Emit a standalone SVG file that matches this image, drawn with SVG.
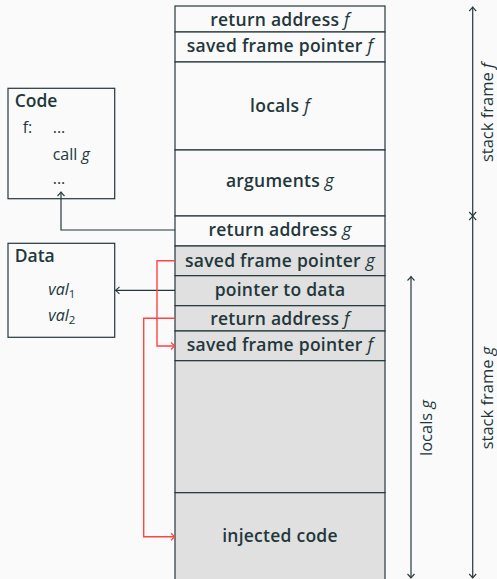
<svg xmlns="http://www.w3.org/2000/svg" width="497" height="579" viewBox="0 0 497 579">
<style>
text{font-family:"Open Sans","Noto Sans",sans-serif;fill:#23373b}
.lbl{font-size:17.5px;font-weight:600;text-anchor:middle;letter-spacing:0.25px}
.m{font-style:italic;font-weight:400}
.cell{stroke:#23373b;stroke-width:1.2}
.w{fill:#fafafa}
.g{fill:#e0e0e0}
.box{fill:none;stroke:#23373b;stroke-width:1.2}
.title{font-size:17.5px;font-weight:600}
.code{font-size:16px;font-weight:400}
.rot{font-size:16.5px;font-weight:400;text-anchor:middle}
.con{fill:none;stroke:#23373b;stroke-width:1.2}
.red{fill:none;stroke:#f44;stroke-width:1.4}
</style>
<defs>
<marker id="ah" markerUnits="userSpaceOnUse" markerWidth="12" markerHeight="12" viewBox="-6 -6 12 12" refX="0" refY="0" orient="auto-start-reverse">
<path d="M-4,-3.5 Q-1.2,-0.8 0,0 Q-1.2,0.8 -4,3.5" fill="none" stroke="#23373b" stroke-width="1.1"/>
</marker>
<marker id="ahr" markerUnits="userSpaceOnUse" markerWidth="12" markerHeight="12" viewBox="-6 -6 12 12" refX="0" refY="0" orient="auto">
<path d="M-4,-3.5 Q-1.2,-0.8 0,0 Q-1.2,0.8 -4,3.5" fill="none" stroke="#f44" stroke-width="1.2"/>
</marker>
</defs>
<rect width="497" height="579" fill="#fafafa"/>

<g id="stack">
<g id="ret-f"><rect class="cell w" x="175" y="6" width="210" height="26"/><text class="lbl" x="280" y="26">return address <tspan class="m">f</tspan></text></g>
<g id="sfp-f"><rect class="cell w" x="175" y="32" width="210" height="30"/><text class="lbl" x="280" y="52">saved frame pointer <tspan class="m">f</tspan></text></g>
<g id="locals-f"><rect class="cell w" x="175" y="62" width="210" height="88"/><text class="lbl" x="280" y="112">locals <tspan class="m">f</tspan></text></g>
<g id="args-g"><rect class="cell w" x="175" y="150" width="210" height="66"/><text class="lbl" x="280" y="187">arguments <tspan class="m">g</tspan></text></g>
<g id="ret-g"><rect class="cell w" x="175" y="216" width="210" height="30"/><text class="lbl" x="280" y="236">return address <tspan class="m">g</tspan></text></g>
<g id="sfp-g"><rect class="cell g" x="175" y="246" width="210" height="29.7"/><text class="lbl" x="280" y="266.5">saved frame pointer <tspan class="m">g</tspan></text></g>
<g id="ptr-data"><rect class="cell g" x="175" y="275.7" width="210" height="30"/><text class="lbl" x="280" y="295.5">pointer to data</text></g>
<g id="ret-f2"><rect class="cell g" x="175" y="305.7" width="210" height="25.3"/><text class="lbl" x="280" y="325">return address <tspan class="m">f</tspan></text></g>
<g id="sfp-f2"><rect class="cell g" x="175" y="331" width="210" height="29.7"/><text class="lbl" x="280" y="351">saved frame pointer <tspan class="m">f</tspan></text></g>
<g id="empty"><rect class="cell g" x="175" y="360.7" width="210" height="132"/></g>
<g id="injected"><rect class="cell g" x="175" y="492.7" width="210" height="95"/><text class="lbl" x="280" y="541.5">injected code</text></g>
</g>

<g id="code-box">
<rect class="box" x="8" y="88.3" width="106.7" height="110.4"/>
<text class="title" x="14.7" y="107.3">Code</text>
<text class="code" x="22.7" y="133.3">f:</text>
<text class="code" x="52.7" y="133.3">...</text>
<text class="code" x="52.7" y="159.5">call <tspan class="m">g</tspan></text>
<text class="code" x="52.7" y="184.3" font-weight="600">...</text>
</g>

<g id="data-box">
<rect class="box" x="8" y="243.3" width="106.7" height="94"/>
<text class="title" x="14.7" y="261.7">Data</text>
<text class="code" x="48.3" y="295"><tspan class="m">val</tspan><tspan font-size="11.5" dy="3">1</tspan></text>
<text class="code" x="48.3" y="320.7"><tspan class="m">val</tspan><tspan font-size="11.5" dy="3">2</tspan></text>
</g>

<g id="connectors">
<path class="con" d="M175,230 H61 V192" marker-end="url(#ah)"/>
<path class="con" d="M175,290.4 H115.5" marker-end="url(#ah)"/>
<path class="red" d="M175,260.7 H157 V346 H175" marker-end="url(#ahr)"/>
<path class="red" d="M175,318.3 H143.7 V536.7 H175" marker-end="url(#ahr)"/>
<path class="con" d="M472.7,216 V7" marker-start="url(#ah)" marker-end="url(#ah)"/>
<path class="con" d="M472.7,216 V578" marker-start="url(#ah)" marker-end="url(#ah)"/>
<path class="con" d="M411,578 V276.5" marker-start="url(#ah)" marker-end="url(#ah)"/>
</g>

<g id="dim-labels">
<text class="rot" transform="translate(492.7,112.5) rotate(-90)">stack frame <tspan class="m">f</tspan></text>
<text class="rot" transform="translate(492.7,398) rotate(-90)">stack frame <tspan class="m">g</tspan></text>
<text class="rot" transform="translate(431.7,428) rotate(-90)">locals <tspan class="m">g</tspan></text>
</g>
</svg>
